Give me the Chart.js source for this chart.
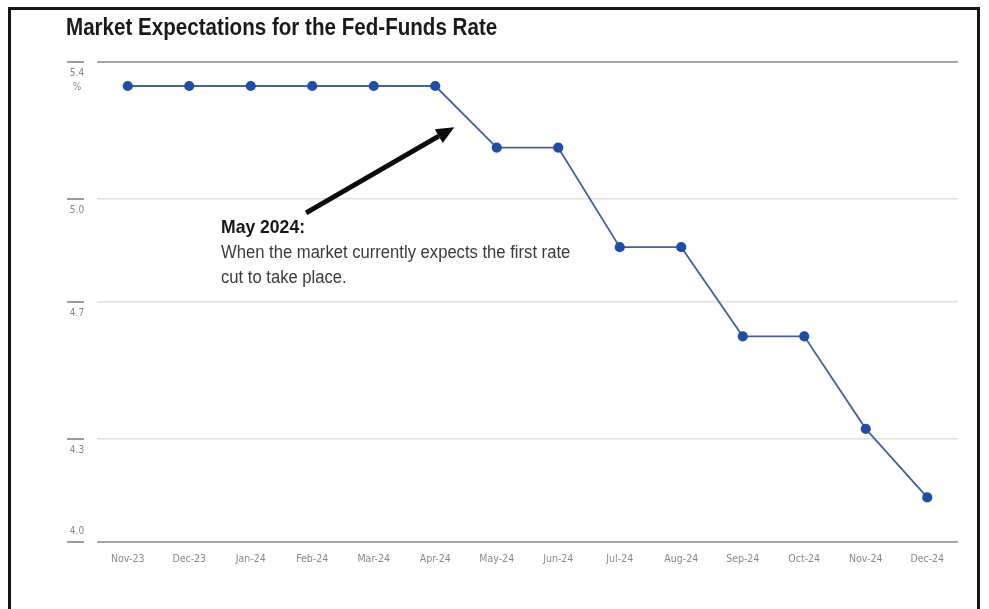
<!DOCTYPE html>
<html>
<head>
<meta charset="utf-8">
<title>Market Expectations for the Fed-Funds Rate</title>
<script src="https://cdn.jsdelivr.net/npm/chart.js@4/dist/chart.umd.min.js"></script>
<style>
  html, body { margin: 0; padding: 0; background: #fff; }
  #wrap { position: relative; width: 989px; height: 609px; overflow: hidden; }
  #frame {
    position: absolute; left: 8px; top: 7px; width: 972px; height: 640px;
    border: 3px solid #161616; box-sizing: border-box;
  }
  #title {
    position: absolute; left: 66px; top: 14px;
    font-family: 'Liberation Sans', 'DejaVu Sans Condensed', sans-serif;
    font-weight: bold; font-size: 23px; color: #1a1a1a; white-space: nowrap;
    transform: scaleX(0.895); transform-origin: 0 0;
  }
  #note {
    position: absolute; left: 221px; top: 214px;
    font-family: 'Liberation Sans', 'DejaVu Sans Condensed', sans-serif;
    font-size: 17.5px; line-height: 25px; color: #3a3a3a; white-space: nowrap;
    transform: scaleX(0.95); transform-origin: 0 0;
  }
  #note b { color: #161616; font-size: 18.5px; }
  canvas { position: absolute; left: 0; top: 0; }
</style>
</head>
<body>
<div id="wrap">
  <canvas id="rateChart" width="989" height="609"></canvas>
  <div id="frame"></div>
  <div id="title">Market Expectations for the Fed-Funds Rate</div>
  <div id="note"><b>May 2024:</b><br>When the market currently expects the first rate<br>cut to take place.</div>
</div>
<script>
// implied fed-funds rate by month (%)
const months = ['Nov-23', 'Dec-23', 'Jan-24', 'Feb-24', 'Mar-24', 'Apr-24', 'May-24',
                'Jun-24', 'Jul-24', 'Aug-24', 'Sep-24', 'Oct-24', 'Nov-24', 'Dec-24'];
const rates = [5.33, 5.33, 5.33, 5.33, 5.33, 5.33, 5.15, 5.15, 4.86, 4.86, 4.60, 4.60, 4.33, 4.13];
const yTicks = [4.0, 4.3, 4.7, 5.0, 5.4];

// arrow pointing at the first cut (x in category index units, y in %)
const arrowFrom = { x: 2.9, y: 4.96 };
const arrowTo = { x: 5.31, y: 5.21 };

const FONT = "'Liberation Sans Narrow', 'DejaVu Sans Condensed', sans-serif";

// y labels sit under a short dash in the left column; the bottom one sits above it
const yLabels = {
  id: 'yLabels',
  afterDraw(chart) {
    const ctx = chart.ctx;
    const y = chart.scales.y;
    ctx.save();
    ctx.font = '10px ' + FONT;
    ctx.fillStyle = '#858585';
    ctx.textAlign = 'center';
    ctx.textBaseline = 'middle';
    yTicks.forEach(v => {
      const py = Math.round(y.getPixelForValue(v));
      ctx.strokeStyle = '#7a7a7a';
      ctx.lineWidth = 1.5;
      ctx.beginPath();
      ctx.moveTo(67, py);
      ctx.lineTo(84, py);
      ctx.stroke();
      const isMin = v === y.min;
      ctx.fillText(v.toFixed(1), 77, isMin ? py - 11 : py + 11);
      if (v === y.max) ctx.fillText('%', 77, py + 25);
    });
    ctx.restore();
  }
};

const arrow = {
  id: 'arrow',
  afterDatasetsDraw(chart) {
    const { ctx, scales: { x, y } } = chart;
    const x0 = x.getPixelForValue(arrowFrom.x), y0 = y.getPixelForValue(arrowFrom.y);
    const x1 = x.getPixelForValue(arrowTo.x), y1 = y.getPixelForValue(arrowTo.y);
    const ang = Math.atan2(y1 - y0, x1 - x0);
    const headLen = 18, headW = 8;
    const bx = x1 - headLen * Math.cos(ang), by = y1 - headLen * Math.sin(ang);
    ctx.save();
    ctx.strokeStyle = '#0c0c0c';
    ctx.fillStyle = '#0c0c0c';
    ctx.lineWidth = 5;
    ctx.beginPath();
    ctx.moveTo(x0, y0);
    ctx.lineTo(bx, by);
    ctx.stroke();
    ctx.beginPath();
    ctx.moveTo(x1, y1);
    ctx.lineTo(bx + headW * Math.sin(ang), by - headW * Math.cos(ang));
    ctx.lineTo(bx - headW * Math.sin(ang), by + headW * Math.cos(ang));
    ctx.closePath();
    ctx.fill();
    ctx.restore();
  }
};

new Chart(document.getElementById('rateChart'), {
  type: 'line',
  data: {
    labels: months,
    datasets: [{
      data: rates,
      borderColor: '#4462a2',
      borderWidth: 1.8,
      pointRadius: 4.2,
      pointHoverRadius: 4.2,
      pointBackgroundColor: '#1f4ea8',
      pointBorderColor: '#1f4ea8',
      tension: 0,
      fill: false
    }]
  },
  options: {
    responsive: false,
    animation: false,
    layout: { padding: { left: 97, right: 31, top: 62, bottom: 0 } },
    plugins: { legend: { display: false }, tooltip: { enabled: false } },
    scales: {
      x: {
        offset: true,
        grid: { display: false },
        border: { display: false },
        ticks: {
          color: '#888888',
          font: { family: FONT, size: 10.5 },
          padding: 3,
          maxRotation: 0,
          autoSkip: false
        },
        afterFit(scale) { scale.height = 67; }
      },
      y: {
        min: 4.0,
        max: 5.4,
        afterBuildTicks(scale) { scale.ticks = yTicks.map(v => ({ value: v })); },
        ticks: { display: false },
        border: { display: false },
        grid: {
          drawTicks: false,
          color: ctx => (ctx.tick && (ctx.tick.value === 5.4 || ctx.tick.value === 4.0)) ? '#a8a4a2' : '#e6dedb',
          lineWidth: ctx => (ctx.tick && (ctx.tick.value === 5.4 || ctx.tick.value === 4.0)) ? 2 : 1.5
        },
        afterFit(scale) { scale.width = 0; }
      }
    }
  },
  plugins: [yLabels, arrow]
});
</script>
</body>
</html>
